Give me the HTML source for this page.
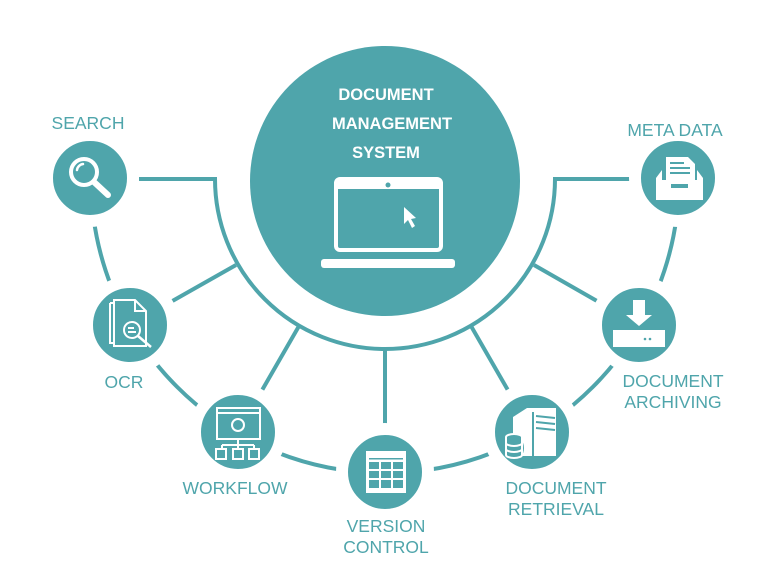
<!DOCTYPE html>
<html><head><meta charset="utf-8"><style>
html,body{margin:0;padding:0;background:#fff;}
svg{display:block;}
text{font-family:"Liberation Sans",sans-serif;fill:#4fa5ab;font-size:17.5px;text-anchor:middle;}
</style></head><body>
<svg width="768" height="580" viewBox="0 0 768 580" xmlns="http://www.w3.org/2000/svg">
<g fill="none" stroke="#4fa5ab" stroke-width="4">
  <path d="M91 179 A294 294 0 0 0 679 179"/>
  <path d="M139 179 H215 A170 170 0 0 0 555 179 H640"/>
  <line x1="236" y1="265" x2="130" y2="325"/>
  <line x1="299" y1="326" x2="238" y2="432"/>
  <line x1="385" y1="349" x2="385" y2="472"/>
  <line x1="471" y1="326" x2="532" y2="432"/>
  <line x1="534" y1="265" x2="639" y2="325"/>
</g>
<g fill="#4fa5ab" stroke="#fff" stroke-width="12">
  <circle cx="90" cy="178" r="43"/>
  <circle cx="130" cy="325" r="43"/>
  <circle cx="238" cy="432" r="43"/>
  <circle cx="385" cy="472" r="43"/>
  <circle cx="532" cy="432" r="43"/>
  <circle cx="639" cy="325" r="43"/>
  <circle cx="678" cy="178" r="43"/>
</g>
<circle cx="385" cy="181" r="135" fill="#4fa5ab"/>
<text x="386" y="100" style="fill:#fff;font-weight:bold;font-size:16.5px">DOCUMENT</text>
<text x="392" y="129" style="fill:#fff;font-weight:bold;font-size:16.5px">MANAGEMENT</text>
<text x="386" y="158" style="fill:#fff;font-weight:bold;font-size:16.5px">SYSTEM</text>
<!-- laptop -->
<rect x="336" y="179" width="105" height="71" rx="4" fill="none" stroke="#fff" stroke-width="4"/>
<rect x="338" y="181" width="101" height="8" fill="#fff"/>
<circle cx="388" cy="185" r="2.5" fill="#4fa5ab"/>
<rect x="321" y="259" width="134" height="9" rx="3" fill="#fff"/>
<path d="M404 207 L404 224 L408 220 L412 228 L415 226 L411 219 L416 218 Z" fill="#fff"/>
<!-- search icon -->
<g stroke="#fff" fill="none" stroke-width="4" stroke-linecap="round">
  <circle cx="84" cy="172" r="13"/>
  <line x1="94" y1="182" x2="108" y2="195" stroke-width="6"/>
  <path d="M77 170 A7 7 0 0 1 83 164" stroke-width="2.5"/>
</g>
<!-- OCR icon -->
<g stroke="#fff" fill="none" stroke-width="2">
  <path d="M110 303 H133 M110 303 V343 H122"/>
  <path d="M114 300 H135 L146 311 V346 H114 Z" fill="#4fa5ab"/>
  <path d="M135 300 V311 H146"/>
  <circle cx="132" cy="330" r="8" fill="#4fa5ab"/>
  <line x1="138" y1="336" x2="151" y2="347" stroke-width="2.5"/>
  <line x1="128" y1="328" x2="134" y2="328"/><line x1="128" y1="332" x2="136" y2="332"/>
</g>
<!-- workflow icon -->
<g stroke="#fff" fill="none" stroke-width="2">
  <rect x="217" y="408" width="43" height="31"/>
  <line x1="217" y1="413" x2="260" y2="413"/>
  <circle cx="238" cy="425" r="6"/>
  <path d="M238 439 V445 M222 445 H254 M222 445 V449 M238 445 V449 M254 445 V449"/>
  <rect x="216" y="449" width="10" height="10"/><rect x="233" y="449" width="10" height="10"/><rect x="249" y="449" width="10" height="10"/>
</g>
<!-- version icon -->
<rect x="366" y="451" width="40" height="42" fill="#fff"/>
<g fill="#4fa5ab">
  <rect x="369" y="458" width="34" height="1.5"/>
  <rect x="369" y="462" width="10" height="7"/><rect x="381" y="462" width="10" height="7"/><rect x="393" y="462" width="10" height="7"/>
  <rect x="369" y="471" width="10" height="7"/><rect x="381" y="471" width="10" height="7"/><rect x="393" y="471" width="10" height="7"/>
  <rect x="369" y="480" width="10" height="8"/><rect x="381" y="480" width="10" height="8"/><rect x="393" y="480" width="10" height="8"/>
</g>
<!-- retrieval icon -->
<path d="M513 417 L527 408 H556 V456 H513 Z" fill="#fff"/>
<g stroke="#4fa5ab" stroke-width="2" fill="none">
  <line x1="533" y1="412" x2="533" y2="456"/>
  <line x1="536" y1="416" x2="555" y2="418"/><line x1="536" y1="422" x2="555" y2="424"/><line x1="536" y1="428" x2="555" y2="430"/>
</g>
<ellipse cx="514" cy="448" rx="10" ry="12" fill="#4fa5ab"/>
<g stroke="#fff" stroke-width="2" fill="#4fa5ab">
  <ellipse cx="514" cy="437" rx="8" ry="3"/>
  <path d="M506 437 V455 A8 3 0 0 0 522 455 V437"/>
  <path d="M506 443 A8 3 0 0 0 522 443 M506 449 A8 3 0 0 0 522 449" fill="none"/>
</g>
<!-- archiving icon -->
<path d="M633 300 H645 V315 H652 L639 326 L626 315 H633 Z" fill="#fff"/>
<rect x="613" y="330" width="52" height="17" fill="#fff"/>
<circle cx="645" cy="339" r="1.3" fill="#4fa5ab"/><circle cx="650" cy="339" r="1.3" fill="#4fa5ab"/>
<!-- meta data icon -->
<path d="M666 157 H688 L695 164 V182 H666 Z" fill="#fff"/>
<g stroke="#4fa5ab" stroke-width="2"><line x1="670" y1="163" x2="684" y2="163"/><line x1="670" y1="168" x2="690" y2="168"/><line x1="670" y1="173" x2="690" y2="173"/></g>
<path d="M656 178 L662 170 V180 H697 V170 L703 178 V200 H656 Z" fill="#fff"/>
<rect x="671" y="184" width="17" height="4" fill="#4fa5ab"/>
<!-- labels -->
<text x="88" y="129">SEARCH</text>
<text x="675" y="136">META DATA</text>
<text x="124" y="388">OCR</text>
<text x="235" y="494">WORKFLOW</text>
<text x="386" y="532">VERSION</text>
<text x="386" y="553">CONTROL</text>
<text x="556" y="494">DOCUMENT</text>
<text x="556" y="515">RETRIEVAL</text>
<text x="673" y="387">DOCUMENT</text>
<text x="673" y="408">ARCHIVING</text>
</svg>
</body></html>
